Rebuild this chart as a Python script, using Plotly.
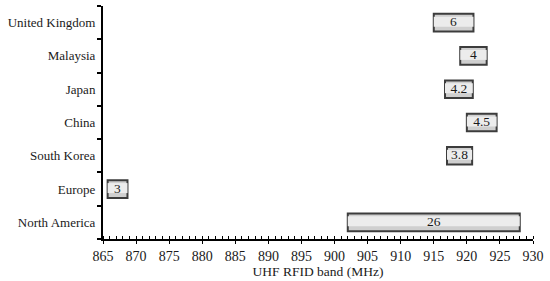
import plotly.graph_objects as go

countries = ["United Kingdom", "Malaysia", "Japan", "China", "South Korea", "Europe", "North America"]
band_start = [915.0, 919.0, 916.7, 920.0, 917.0, 865.7, 902.0]
band_end = [921.0, 923.0, 920.9, 924.5, 920.8, 868.7, 928.0]
width_labels = ["6", "4", "4.2", "4.5", "3.8", "3", "26"]

x_ticks = list(range(865, 931, 5))

widths = [e - s for s, e in zip(band_start, band_end)]

FONT = "Liberation Serif"
TXT = "#1a1a1a"

fig = go.Figure()
# main bar with dark border
fig.add_trace(go.Bar(
    y=countries, x=widths, base=band_start, orientation="h",
    width=0.53, offset=-0.265,
    marker=dict(color="#cfcfcf", line=dict(color="#3c3c3c", width=2)),
    hoverinfo="skip",
))
# lighter highlight (bevel look)
fig.add_trace(go.Bar(
    y=countries, x=widths, base=band_start, orientation="h",
    width=0.3, offset=-0.12,
    marker=dict(color="#ececec", line=dict(width=0)),
    text=width_labels,
    textposition="inside",
    insidetextanchor="middle",
    textangle=0,
    textfont=dict(family=FONT, size=13.5, color=TXT),
    constraintext="none",
    hoverinfo="skip",
))

fig.update_layout(
    width=550, height=281,
    margin=dict(l=103, r=15, t=6, b=42),
    plot_bgcolor="white", paper_bgcolor="white",
    showlegend=False,
    barmode="overlay",
    font=dict(family=FONT, size=13, color=TXT),
    uniformtext=dict(mode=False),
)
fig.update_xaxes(
    range=[865, 930],
    tickvals=x_ticks,
    ticktext=[str(v) for v in x_ticks],
    showgrid=False, zeroline=False,
    showline=True, linecolor="black", linewidth=1.5,
    ticks="outside", ticklen=3, tickcolor="black", tickwidth=1,
    minor=dict(dtick=1, ticks="inside", ticklen=3, tickcolor="black", tickwidth=1),
    tickfont=dict(family=FONT, size=14, color=TXT),
    title=dict(text="UHF RFID band (MHz)", font=dict(family=FONT, size=13.5, color=TXT), standoff=2),
)
fig.update_yaxes(
    type="category",
    categoryorder="array",
    categoryarray=countries[::-1],
    showgrid=False, zeroline=False,
    showline=True, linecolor="black", linewidth=1.5,
    ticks="outside", ticklen=4, tickcolor="black", tickwidth=1.5,
    tickson="boundaries",
    tickfont=dict(family=FONT, size=13, color=TXT),
    ticksuffix=" ",
)

fig.write_html(
    "out.html",
    config={"displayModeBar": False},
    post_script="document.body.style.margin='0px';document.body.style.padding='0px';",
)
